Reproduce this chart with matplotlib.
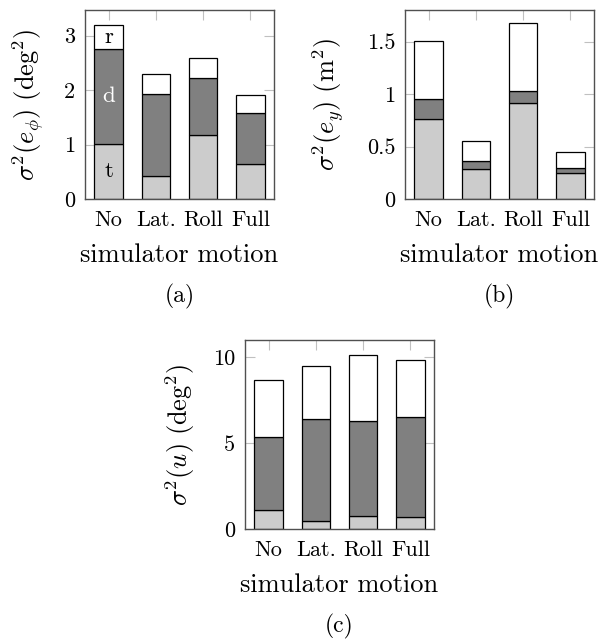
import numpy as np
import matplotlib
matplotlib.use("Agg")
import matplotlib.pyplot as plt

plt.rcParams['font.family'] = 'cmr10'
plt.rcParams['mathtext.fontset'] = 'cm'
plt.rcParams['axes.formatter.use_mathtext'] = True

motions = ["No", "Lat.", "Roll", "Full"]

# stacked components: t (bottom), d (middle), r (top) -> cumulative tops
phi_t = [1.01, 0.43, 1.18, 0.64]
phi_d = [2.75, 1.92, 2.22, 1.58]
phi_r = [3.20, 2.29, 2.58, 1.91]

ey_t = [0.76, 0.283, 0.912, 0.25]
ey_d = [0.95, 0.365, 1.027, 0.295]
ey_r = [1.50, 0.55, 1.68, 0.448]

u_t = [1.08, 0.47, 0.73, 0.70]
u_d = [5.37, 6.40, 6.28, 6.53]
u_r = [8.66, 9.51, 10.12, 9.83]

panels = [
    dict(t=phi_t, d=phi_d, r=phi_r, ymax=3.47, ticks=[0, 1, 2, 3], ticklabels=["0", "1", "2", "3"],
         ylabel=r"$\sigma^2(e_\phi)\ (\mathrm{deg}^2)$", cap="(a)"),
    dict(t=ey_t, d=ey_d, r=ey_r, ymax=1.80, ticks=[0, 0.5, 1, 1.5], ticklabels=["0", "0.5", "1", "1.5"],
         ylabel=r"$\sigma^2(e_y)\ (\mathrm{m}^2)$", cap="(b)"),
    dict(t=u_t, d=u_d, r=u_r, ymax=11.0, ticks=[0, 5, 10], ticklabels=["0", "5", "10"],
         ylabel=r"$\sigma^2(u)\ (\mathrm{deg}^2)$", cap="(c)"),
]

W, H = 607, 643
# axes boxes in pixels: left, top, right, bottom
boxes = [(85, 10, 274, 199), (405, 10, 594, 199), (245, 340, 434, 529)]
ylab_x = [28, 328, 180]

fig = plt.figure(figsize=(W / 100, H / 100), dpi=100)

for p, (l, t, r, b), yx in zip(panels, boxes, ylab_x):
    ax = fig.add_axes([l / W, 1 - b / H, (r - l) / W, (b - t) / H])
    x = np.arange(len(motions))
    tt = np.array(p['t'])
    dd = np.array(p['d'])
    rr = np.array(p['r'])
    ax.bar(x, tt, 0.6, color='#cccccc', edgecolor='black', linewidth=0.9, zorder=3)
    ax.bar(x, dd - tt, 0.6, bottom=tt, color='#808080', edgecolor='black', linewidth=0.9, zorder=3)
    ax.bar(x, rr - dd, 0.6, bottom=dd, color='white', edgecolor='black', linewidth=0.9, zorder=3)
    ax.set_xlim(-0.5, 3.5)
    ax.set_ylim(0, p['ymax'])
    ax.set_xticks(x)
    ax.set_xticklabels(motions)
    ax.set_yticks(p['ticks'])
    ax.set_yticklabels(p['ticklabels'])
    ax.tick_params(direction='in', length=7, width=0.8, color='#c0c0c0', labelsize=16,
                   top=True, right=True)
    ax.tick_params(axis='x', pad=8)
    ax.tick_params(axis='y', pad=7)
    for s in ax.spines.values():
        s.set_color('#505050')
        s.set_linewidth(1.0)
        s.set_zorder(4)
    cx = (l + r) / 2
    fig.text(yx / W, 1 - ((t + b) / 2) / H, p['ylabel'], rotation=90, ha='center', va='center', fontsize=19)
    fig.text(cx / W, 1 - (b + 62.5) / H, "simulator motion", ha='center', va='baseline', fontsize=19)
    fig.text(cx / W, 1 - (b + 97) / H, p['cap'], ha='center', va='center', fontsize=17)
    if p['cap'] == "(a)":
        ax.text(0, (tt[0]) / 2, "t", ha='center', va='center', fontsize=16.5, zorder=5)
        ax.text(0, (tt[0] + dd[0]) / 2, "d", ha='center', va='center', fontsize=16.5, color='white', zorder=5)
        ax.text(0, (dd[0] + rr[0]) / 2, "r", ha='center', va='center', fontsize=16.5, zorder=5)

fig.savefig("out.png", dpi=100)
